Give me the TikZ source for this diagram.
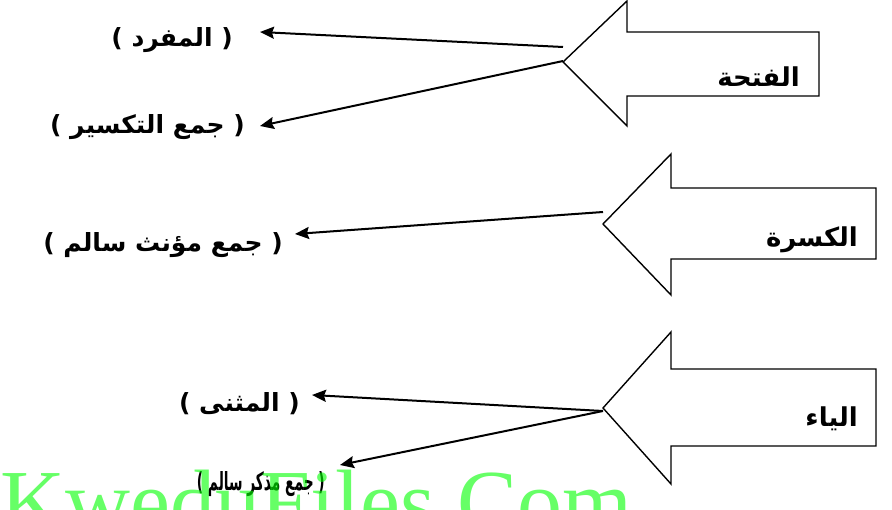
\documentclass[tikz,border=0pt]{standalone}
\usepackage{fontspec}
\newfontfamily\arabicfont[Script=Arabic]{DejaVu Sans}
\newfontfamily\markfont{Liberation Serif}
\TeXXeTstate=1
\usetikzlibrary{arrows.meta}

\tikzset{
  bigarrow/.style={draw, line width=1.4pt},
  casename/.style={font=\arabicfont\bfseries\fontsize{26}{30}\selectfont, anchor=base east, inner sep=0pt},
  kind/.style={font=\arabicfont\bfseries\fontsize{25}{30}\selectfont, anchor=base east, inner sep=0pt},
  link/.style={line width=2pt, -{Stealth[length=14pt,width=12pt,inset=2pt]}},
}

\begin{document}
\begin{tikzpicture}[x=1pt,y=-1pt]
\useasboundingbox (0,0) rectangle (892,510);

% the three big arrows
\draw[bigarrow] (563,62) -- (627,1) -- (627,32) -- (819,32) -- (819,96) -- (627,96) -- (627,126) -- cycle;
\draw[bigarrow] (603,224) -- (671,154) -- (671,188) -- (876,188) -- (876,259) -- (671,259) -- (671,295) -- cycle;
\draw[bigarrow] (603,408) -- (671,332) -- (671,369) -- (876,369) -- (876,446) -- (671,446) -- (671,484) -- cycle;

\node[casename] (fatha) at (800,87) {\beginR الفتحة\endR};
\node[casename] (kasra) at (858,247) {\beginR الكسرة\endR};
\node[casename] (yaa) at (858,427) {\beginR الياء\endR};

% where the thin arrows start and end
\coordinate (fathaA) at (563,47);
\coordinate (fathaB) at (563,61);
\coordinate (kasraA) at (603,212);
\coordinate (yaaA) at (603,411);
\coordinate (mufradTip) at (260,32);
\coordinate (taksirTip) at (260,126);
\coordinate (muannathTip) at (295,234);
\coordinate (muthannaTip) at (312,395);
\coordinate (mudhakkarTip) at (340,465);

\node[kind] (mufrad) at (233,47) {\beginR( المفرد )\endR};
\node[kind] (taksir) at (245,134) {\beginR( جمع التكسير )\endR};
\node[kind] (muannath) at (283,252) {\beginR( جمع مؤنث سالم )\endR};
\node[kind] (muthanna) at (300,412) {\beginR( المثنى )\endR};
\node[kind] (mudhakkar) at (325,490) {\scalebox{0.55}[1]{\beginR( جمع مذكر سالم )\endR}};

\draw[link] (fathaA) -- (mufradTip);
\draw[link] (fathaB) -- (taksirTip);
\draw[link] (kasraA) -- (muannathTip);
\draw[link] (yaaA) -- (muthannaTip);
\draw[link] (yaaA) -- (mudhakkarTip);

% watermark
\node[text=green, opacity=0.6, font=\markfont\fontsize{90}{90}\selectfont, anchor=base west, inner sep=0pt] (mark) at (0,532) {KweduFiles.Com};
\end{tikzpicture}
\end{document}
